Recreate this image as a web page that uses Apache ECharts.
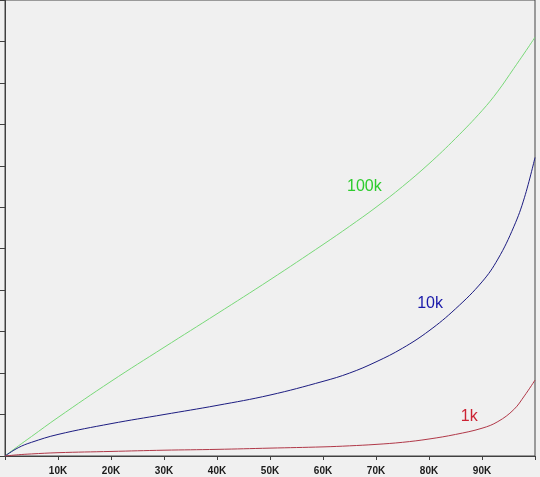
<!DOCTYPE html>
<html>
<head>
<meta charset="utf-8">
<style>
  html, body { margin: 0; padding: 0; background: #f0f0f0; }
  #chart { width: 540px; height: 477px; }
</style>
<script src="https://cdn.jsdelivr.net/npm/echarts@6/dist/echarts.min.js"></script>
</head>
<body>
<div id="chart"></div>
<script>
// x positions (shared by all three curves)
const xValues = [0, 2500, 5000, 10000, 20000, 30000, 40000, 50000, 60000, 65000, 70000, 75000, 80000, 85000, 90000, 93000, 96000, 98000, 100000]
// y values in axis tick units
const series100k = [0, 0.24, 0.47, 0.93, 1.8, 2.62, 3.43, 4.25, 5.1, 5.54, 6.0, 6.5, 7.05, 7.66, 8.33, 8.8, 9.35, 9.72, 10.1]
const series10k = [0, 0.2, 0.33, 0.52, 0.78, 1.0, 1.22, 1.47, 1.8, 2.0, 2.27, 2.6, 3.02, 3.55, 4.2, 4.75, 5.53, 6.23, 7.2]
const series1k = [0, 0.03, 0.05, 0.08, 0.11, 0.14, 0.16, 0.19, 0.22, 0.245, 0.28, 0.33, 0.41, 0.52, 0.67, 0.83, 1.12, 1.45, 1.83]
const xTickLabels = ['10K', '20K', '30K', '40K', '50K', '60K', '70K', '80K', '90K']

const pairs = ys => xValues.map((x, i) => [x, ys[i]])

function curve(name, ys, lineColor, textColor, at) {
  return {
    name: name,
    type: 'line',
    smooth: 0.4,
    showSymbol: false,
    silent: true,
    lineStyle: { color: lineColor, width: 1 },
    data: pairs(ys),
    markPoint: {
      symbol: 'circle',
      symbolSize: 0,
      silent: true,
      label: {
        show: true,
        position: 'inside',
        formatter: name,
        color: textColor,
        fontSize: 16,
        fontFamily: 'Liberation Sans'
      },
      data: [{ coord: at }]
    }
  }
}

const chart = echarts.init(document.getElementById('chart'))
chart.setOption({
  animation: false,
  backgroundColor: '#f0f0f0',
  textStyle: { fontFamily: 'Liberation Sans' },
  grid: {
    left: 5, right: 5, top: -2, bottom: 21,
    show: true, borderColor: '#444', borderWidth: 1, backgroundColor: '#f0f0f0'
  },
  xAxis: {
    type: 'value',
    min: 0, max: 100000, interval: 10000,
    axisLine: { show: true, lineStyle: { color: '#404040', width: 1 } },
    axisTick: { show: true, length: 4, lineStyle: { color: '#404040' } },
    splitLine: { show: false },
    axisLabel: {
      margin: 10,
      color: '#1a1a1a',
      fontSize: 10,
      fontWeight: 'bold',
      formatter: v => xTickLabels[v / 10000 - 1] || ''
    }
  },
  yAxis: {
    type: 'value',
    min: 0, max: 11, interval: 1,
    axisLine: { show: true, lineStyle: { color: '#404040', width: 1 } },
    axisTick: { show: true, length: 5, lineStyle: { color: '#404040' } },
    axisLabel: { show: false },
    splitLine: { show: false }
  },
  series: [
    curve('100k', series100k, '#78d878', '#2ecc2e', [67800, 6.49]),
    curve('10k', series10k, '#1c1c80', '#1a1aaa', [80200, 3.68]),
    curve('1k', series1k, '#b03848', '#cc2233', [87600, 0.94])
  ]
})
</script>
</body>
</html>
